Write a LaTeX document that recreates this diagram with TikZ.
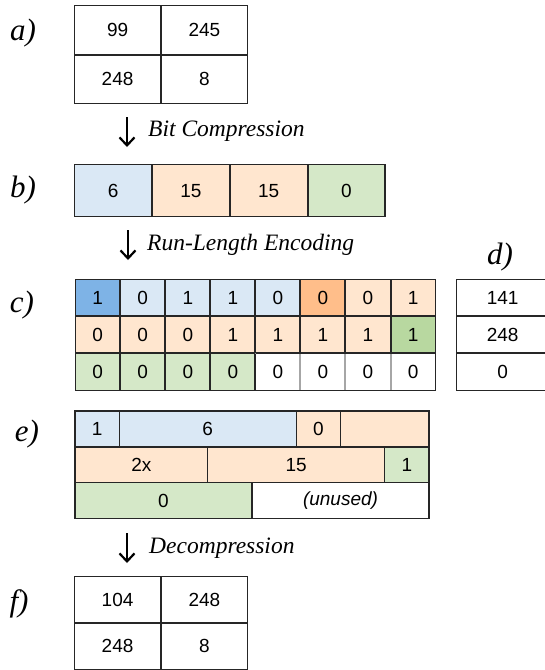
\documentclass[tikz,border=0pt]{standalone}
\usepackage{fontspec}
\setmainfont{Liberation Serif}
\setsansfont{Liberation Sans}
\usetikzlibrary{matrix,positioning}
\usetikzlibrary{arrows.meta}

\definecolor{cblueL}{HTML}{DAE8F5}
\definecolor{cblueD}{HTML}{7EB3E6}
\definecolor{cpeach}{HTML}{FFE6CF}
\definecolor{corangeD}{HTML}{FFBE8A}
\definecolor{cgreenL}{HTML}{D5E8C8}
\definecolor{cgreenD}{HTML}{B8D8A0}

\tikzset{
  cell/.style={draw=black!85, line width=1.2pt, outer sep=0pt, inner sep=0pt,
    font=\sffamily\fontsize{19}{22}\selectfont},
  cellgrid/.style={matrix of nodes, inner sep=0pt, outer sep=0pt, anchor=north west,
    row sep=-\pgflinewidth, column sep=-\pgflinewidth},
  panel/.style={font=\itshape\fontsize{31}{33}\selectfont},
  caption/.style={font=\itshape\fontsize{23.5}{25}\selectfont, anchor=west, inner sep=0pt},
  downarrow/.style={line width=2.2pt, -{Straight Barb[length=8pt,width=15pt,line width=2.2pt]}},
  bl/.style={fill=cblueL}, bd/.style={fill=cblueD},
  pe/.style={fill=cpeach}, od/.style={fill=corangeD},
  gl/.style={fill=cgreenL}, gd/.style={fill=cgreenD},
  wh/.style={draw=black!35}
}

\begin{document}
\begin{tikzpicture}[x=1pt, y=-1pt]
  \useasboundingbox (0,0) rectangle (545,670);

  % panel letters
  \node[panel] (la) at (23,33)  {a)};
  \node[panel] (lb) at (23,190) {b)};
  \node[panel] (lc) at (22,305) {c)};
  \node[panel] (ld) at (500,257) {d)};
  \node[panel] (le) at (27,434) {e)};
  \node[panel] (lf) at (19,604) {f)};

  % a) input block
  \matrix (a) [cellgrid, nodes={cell, minimum width=86pt, minimum height=48.5pt}] at (74,5)
  {
    99  & 245 \\
    248 & 8   \\
  };

  % b) compressed values
  \matrix (b) [cellgrid, nodes={cell, minimum width=77pt, minimum height=52pt}] at (74,164)
  {
    |[bl]| 6 & |[pe]| 15 & |[pe]| 15 & |[gl]| 0 \\
  };

  % c) bit stream
  \matrix (c) [cellgrid, nodes={cell, minimum width=44.25pt, minimum height=36.3pt}] at (75,279)
  {
    |[bd]| 1 & |[bl]| 0 & |[bl]| 1 & |[bl]| 1 & |[bl]| 0 & |[od]| 0 & |[pe]| 0 & |[pe]| 1 \\
    |[pe]| 0 & |[pe]| 0 & |[pe]| 0 & |[pe]| 1 & |[pe]| 1 & |[pe]| 1 & |[pe]| 1 & |[gd]| 1 \\
    |[gl]| 0 & |[gl]| 0 & |[gl]| 0 & |[gl]| 0 & |[wh]| 0 & |[wh]| 0 & |[wh]| 0 & |[wh]| 0 \\
  };
  \draw[draw=black!85, line width=1.2pt] (c-3-5.north west) -- (c-3-8.north east);
  \draw[draw=black!85, line width=1.2pt] (c-3-5.north west) -- (c-3-5.south west);
  \draw[draw=black!85, line width=1.2pt] (c-1-1.north west) rectangle (c-3-8.south east);

  % d) bytes
  \matrix (d) [cellgrid, nodes={cell, minimum width=92pt, minimum height=36.3pt}] at (456,279)
  {
    141 \\
    248 \\
    0   \\
  };

  % e) run-length fields
  \node[cell, bl, anchor=north west, minimum width=44.25pt, minimum height=36pt] (e11) at (75,411) {1};
  \node[cell, bl, right=0pt of e11, minimum width=177pt, minimum height=36pt] (e12) {6};
  \node[cell, pe, right=0pt of e12, minimum width=44.25pt, minimum height=36pt] (e13) {0};
  \node[cell, pe, right=0pt of e13, minimum width=88.5pt, minimum height=36pt] (e14) {};
  \node[cell, pe, anchor=north west, minimum width=132.75pt, minimum height=35.5pt] (e21) at (e11.south west) {2x};
  \node[cell, pe, right=0pt of e21, minimum width=177pt, minimum height=35.5pt] (e22) {15};
  \node[cell, gl, right=0pt of e22, minimum width=44.25pt, minimum height=35.5pt] (e23) {1};
  \node[cell, gl, anchor=north west, minimum width=177pt, minimum height=36pt] (e31) at (e21.south west) {0};
  \node[cell, right=0pt of e31, minimum width=177pt, minimum height=36pt] (e32) {\itshape(unused)};

  % f) output block
  \matrix (f) [cellgrid, nodes={cell, minimum width=86pt, minimum height=46pt}] at (74,576)
  {
    104 & 248 \\
    248 & 8   \\
  };

  % steps
  \coordinate (s1a) at (127,117);
  \coordinate (s1b) at (127,147);
  \draw[downarrow] (s1a) -- (s1b);
  \node[caption] (cap1) at (148,131) {Bit Compression};

  \coordinate (s2a) at (128,230);
  \coordinate (s2b) at (128,260);
  \draw[downarrow] (s2a) -- (s2b);
  \node[caption] (cap2) at (147,245) {Run-Length Encoding};

  \coordinate (s3a) at (127,533);
  \coordinate (s3b) at (127,563);
  \draw[downarrow] (s3a) -- (s3b);
  \node[caption] (cap3) at (149,548) {Decompression};
\end{tikzpicture}
\end{document}
